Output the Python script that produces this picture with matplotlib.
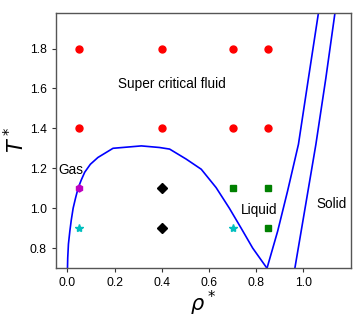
"""Lennard-Jones phase diagram with sampled state points."""

import matplotlib
matplotlib.use("Agg")
import matplotlib.pyplot as plt

# vapour-liquid coexistence curve (rho*, T*)
coex_rho = [0.0, 0.001, 0.004, 0.010, 0.016, 0.024, 0.034, 0.045, 0.058, 0.073,
            0.097, 0.129, 0.193, 0.313, 0.39, 0.433, 0.503, 0.567, 0.630, 0.686,
            0.736, 0.785, 0.845]
coex_T = [0.70, 0.75, 0.82, 0.885, 0.94, 1.0, 1.05, 1.10, 1.14, 1.18,
          1.22, 1.254, 1.30, 1.312, 1.304, 1.296, 1.246, 1.195, 1.103, 1.0,
          0.90, 0.80, 0.70]

# freezing and melting lines
freeze_rho = [0.846, 0.891, 0.933, 0.979, 1.020, 1.064, 1.075]
freeze_T = [0.70, 0.885, 1.086, 1.32, 1.64, 1.98, 2.06]
melt_rho = [0.964, 1.010, 1.053, 1.095, 1.134, 1.145]
melt_T = [0.70, 1.02, 1.32, 1.65, 1.98, 2.06]

# simulated state points
sc_rho = [0.05, 0.4, 0.7, 0.85, 0.05, 0.4, 0.7, 0.85]
sc_T = [1.8, 1.8, 1.8, 1.8, 1.4, 1.4, 1.4, 1.4]
gas_rho, gas_T = [0.05], [1.1]
star_rho, star_T = [0.05, 0.7], [0.9, 0.9]
two_rho, two_T = [0.4, 0.4], [1.1, 0.9]
liq_rho = [0.7, 0.85, 0.85]
liq_T = [1.1, 1.1, 0.9]

plt.rcParams["font.family"] = ["Liberation Sans", "DejaVu Sans"]

fig = plt.figure(figsize=(3.57, 3.27), dpi=100)
ax = fig.add_axes([0.156, 0.1804, 0.826, 0.781])

ax.plot(coex_rho, coex_T, color="b", lw=1.2)
ax.plot(freeze_rho, freeze_T, color="b", lw=1.2)
ax.plot(melt_rho, melt_T, color="b", lw=1.2)

ax.plot(sc_rho, sc_T, "o", color="r", ms=5, ls="none")
ax.plot(gas_rho, gas_T, "h", color="m", ms=5, ls="none")
ax.plot(star_rho, star_T, "*", color="c", ms=6, ls="none")
ax.plot(two_rho, two_T, "D", color="k", ms=5.5, ls="none")
ax.plot(liq_rho, liq_T, "s", color="g", ms=5, ls="none")

ax.text(0.444, 1.62, "Super critical fluid", fontsize=9.8, ha="center", va="center")
ax.text(-0.04, 1.19, "Gas", fontsize=9.8, ha="left", va="center")
ax.text(0.814, 0.99, "Liquid", fontsize=9.8, ha="center", va="center")
ax.text(1.119, 1.02, "Solid", fontsize=9.8, ha="center", va="center")

ax.set_xlim(-0.05, 1.2)
ax.set_ylim(0.7, 1.98)
ax.set_xticks([0.0, 0.2, 0.4, 0.6, 0.8, 1.0])
ax.set_yticks([0.8, 1.0, 1.2, 1.4, 1.6, 1.8])
ax.tick_params(labelsize=8.7, length=3, width=0.8, color="#333333")
for s in ax.spines.values():
    s.set_color("#555555")
    s.set_linewidth(1.0)

ax.set_xlabel(r"$\rho^*$", fontsize=15, labelpad=0)
ax.set_ylabel(r"$T^*$", fontsize=15, labelpad=1)

fig.savefig("out.png", dpi=100)
